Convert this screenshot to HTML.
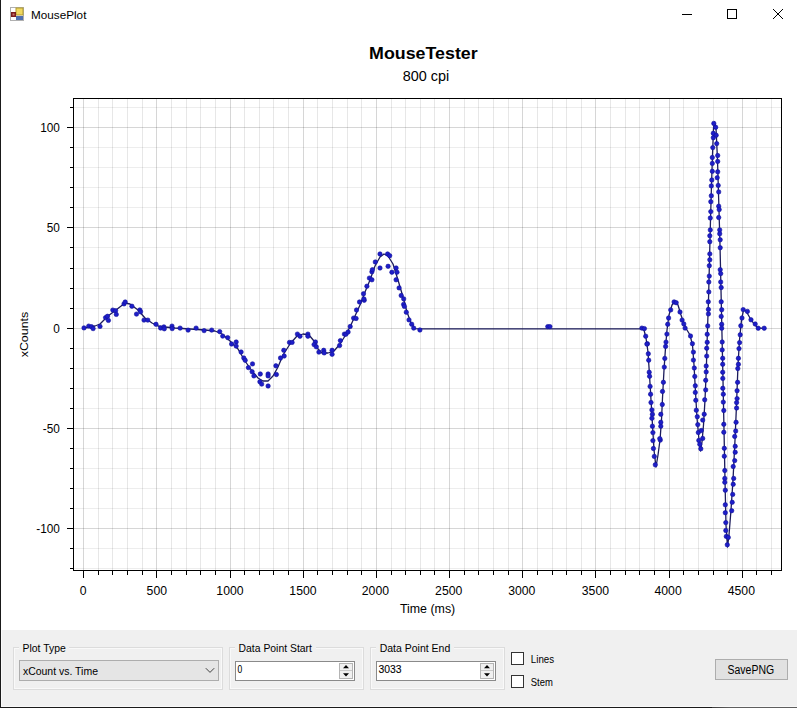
<!DOCTYPE html>
<html><head><meta charset="utf-8"><title>MousePlot</title>
<style>
*{margin:0;padding:0;box-sizing:border-box}
html,body{width:797px;height:708px;overflow:hidden;background:#fff}
body{position:relative;font-family:"Liberation Sans",sans-serif;color:#000}
.abs{position:absolute}
svg text{font-family:"Liberation Sans",sans-serif}
.mi{stroke:rgba(0,0,0,0.07);stroke-width:1}
.mv{stroke:rgba(0,0,0,0.095);stroke-width:1}
.ma{stroke:rgba(0,0,0,0.16);stroke-width:1}
.tl{font-size:12px;fill:#000}
.tt{font-size:17px;font-weight:bold;fill:#000}
.st{font-size:14px;fill:#000}
#panel{left:1px;top:630px;width:796px;height:77px;background:#f0f0f0}
.gb{position:absolute;border:1px solid #dcdcdc;}
.lbl{position:absolute;font-size:11px;line-height:13px;white-space:nowrap;background:#f0f0f0;padding:0 1px}
.txt{position:absolute;font-size:11px;line-height:13px;white-space:nowrap}
</style></head><body>
<svg class="abs" style="left:0;top:0" width="797" height="630" viewBox="0 0 797 630">
<line x1="98.5" y1="99" x2="98.5" y2="570" class="mv"/>
<line x1="112.5" y1="99" x2="112.5" y2="570" class="mv"/>
<line x1="127.5" y1="99" x2="127.5" y2="570" class="mv"/>
<line x1="142.5" y1="99" x2="142.5" y2="570" class="mv"/>
<line x1="171.5" y1="99" x2="171.5" y2="570" class="mv"/>
<line x1="186.5" y1="99" x2="186.5" y2="570" class="mv"/>
<line x1="200.5" y1="99" x2="200.5" y2="570" class="mv"/>
<line x1="215.5" y1="99" x2="215.5" y2="570" class="mv"/>
<line x1="244.5" y1="99" x2="244.5" y2="570" class="mv"/>
<line x1="259.5" y1="99" x2="259.5" y2="570" class="mv"/>
<line x1="273.5" y1="99" x2="273.5" y2="570" class="mv"/>
<line x1="288.5" y1="99" x2="288.5" y2="570" class="mv"/>
<line x1="317.5" y1="99" x2="317.5" y2="570" class="mv"/>
<line x1="332.5" y1="99" x2="332.5" y2="570" class="mv"/>
<line x1="347.5" y1="99" x2="347.5" y2="570" class="mv"/>
<line x1="361.5" y1="99" x2="361.5" y2="570" class="mv"/>
<line x1="391.5" y1="99" x2="391.5" y2="570" class="mv"/>
<line x1="405.5" y1="99" x2="405.5" y2="570" class="mv"/>
<line x1="420.5" y1="99" x2="420.5" y2="570" class="mv"/>
<line x1="434.5" y1="99" x2="434.5" y2="570" class="mv"/>
<line x1="464.5" y1="99" x2="464.5" y2="570" class="mv"/>
<line x1="478.5" y1="99" x2="478.5" y2="570" class="mv"/>
<line x1="493.5" y1="99" x2="493.5" y2="570" class="mv"/>
<line x1="508.5" y1="99" x2="508.5" y2="570" class="mv"/>
<line x1="537.5" y1="99" x2="537.5" y2="570" class="mv"/>
<line x1="552.5" y1="99" x2="552.5" y2="570" class="mv"/>
<line x1="566.5" y1="99" x2="566.5" y2="570" class="mv"/>
<line x1="581.5" y1="99" x2="581.5" y2="570" class="mv"/>
<line x1="610.5" y1="99" x2="610.5" y2="570" class="mv"/>
<line x1="625.5" y1="99" x2="625.5" y2="570" class="mv"/>
<line x1="639.5" y1="99" x2="639.5" y2="570" class="mv"/>
<line x1="654.5" y1="99" x2="654.5" y2="570" class="mv"/>
<line x1="683.5" y1="99" x2="683.5" y2="570" class="mv"/>
<line x1="698.5" y1="99" x2="698.5" y2="570" class="mv"/>
<line x1="713.5" y1="99" x2="713.5" y2="570" class="mv"/>
<line x1="727.5" y1="99" x2="727.5" y2="570" class="mv"/>
<line x1="756.5" y1="99" x2="756.5" y2="570" class="mv"/>
<line x1="771.5" y1="99" x2="771.5" y2="570" class="mv"/>
<line x1="74" y1="568.5" x2="781" y2="568.5" class="mi"/>
<line x1="74" y1="548.5" x2="781" y2="548.5" class="mi"/>
<line x1="74" y1="508.5" x2="781" y2="508.5" class="mi"/>
<line x1="74" y1="488.5" x2="781" y2="488.5" class="mi"/>
<line x1="74" y1="468.5" x2="781" y2="468.5" class="mi"/>
<line x1="74" y1="448.5" x2="781" y2="448.5" class="mi"/>
<line x1="74" y1="408.5" x2="781" y2="408.5" class="mi"/>
<line x1="74" y1="388.5" x2="781" y2="388.5" class="mi"/>
<line x1="74" y1="368.5" x2="781" y2="368.5" class="mi"/>
<line x1="74" y1="348.5" x2="781" y2="348.5" class="mi"/>
<line x1="74" y1="308.5" x2="781" y2="308.5" class="mi"/>
<line x1="74" y1="288.5" x2="781" y2="288.5" class="mi"/>
<line x1="74" y1="268.5" x2="781" y2="268.5" class="mi"/>
<line x1="74" y1="247.5" x2="781" y2="247.5" class="mi"/>
<line x1="74" y1="207.5" x2="781" y2="207.5" class="mi"/>
<line x1="74" y1="187.5" x2="781" y2="187.5" class="mi"/>
<line x1="74" y1="167.5" x2="781" y2="167.5" class="mi"/>
<line x1="74" y1="147.5" x2="781" y2="147.5" class="mi"/>
<line x1="74" y1="107.5" x2="781" y2="107.5" class="mi"/>
<line x1="83.5" y1="99" x2="83.5" y2="570" class="ma"/>
<line x1="156.5" y1="99" x2="156.5" y2="570" class="ma"/>
<line x1="230.5" y1="99" x2="230.5" y2="570" class="ma"/>
<line x1="303.5" y1="99" x2="303.5" y2="570" class="ma"/>
<line x1="376.5" y1="99" x2="376.5" y2="570" class="ma"/>
<line x1="449.5" y1="99" x2="449.5" y2="570" class="ma"/>
<line x1="522.5" y1="99" x2="522.5" y2="570" class="ma"/>
<line x1="595.5" y1="99" x2="595.5" y2="570" class="ma"/>
<line x1="669.5" y1="99" x2="669.5" y2="570" class="ma"/>
<line x1="742.5" y1="99" x2="742.5" y2="570" class="ma"/>
<line x1="74" y1="528.5" x2="781" y2="528.5" class="ma"/>
<line x1="74" y1="428.5" x2="781" y2="428.5" class="ma"/>
<line x1="74" y1="328.5" x2="781" y2="328.5" class="ma"/>
<line x1="74" y1="227.5" x2="781" y2="227.5" class="ma"/>
<line x1="74" y1="127.5" x2="781" y2="127.5" class="ma"/>
<rect x="73.5" y="98.5" width="708" height="472" fill="none" stroke="#000" stroke-width="1"/>
<path d="M83.5 571v7 M98.5 571v4 M112.5 571v4 M127.5 571v4 M142.5 571v4 M156.5 571v7 M171.5 571v4 M186.5 571v4 M200.5 571v4 M215.5 571v4 M230.5 571v7 M244.5 571v4 M259.5 571v4 M273.5 571v4 M288.5 571v4 M303.5 571v7 M317.5 571v4 M332.5 571v4 M347.5 571v4 M361.5 571v4 M376.5 571v7 M391.5 571v4 M405.5 571v4 M420.5 571v4 M434.5 571v4 M449.5 571v7 M464.5 571v4 M478.5 571v4 M493.5 571v4 M508.5 571v4 M522.5 571v7 M537.5 571v4 M552.5 571v4 M566.5 571v4 M581.5 571v4 M595.5 571v7 M610.5 571v4 M625.5 571v4 M639.5 571v4 M654.5 571v4 M669.5 571v7 M683.5 571v4 M698.5 571v4 M713.5 571v4 M727.5 571v4 M742.5 571v7 M756.5 571v4 M771.5 571v4 M73 568.5h-3 M73 548.5h-3 M73 528.5h-6 M73 508.5h-3 M73 488.5h-3 M73 468.5h-3 M73 448.5h-3 M73 428.5h-6 M73 408.5h-3 M73 388.5h-3 M73 368.5h-3 M73 348.5h-3 M73 328.5h-6 M73 308.5h-3 M73 288.5h-3 M73 268.5h-3 M73 247.5h-3 M73 227.5h-6 M73 207.5h-3 M73 187.5h-3 M73 167.5h-3 M73 147.5h-3 M73 127.5h-6 M73 107.5h-3" stroke="#000" stroke-width="1" fill="none"/>
<text x="79.80" y="594.6" font-size="12" textLength="6.81" lengthAdjust="spacingAndGlyphs">0</text>
<text x="146.58" y="594.6" font-size="12" textLength="20.42" lengthAdjust="spacingAndGlyphs">500</text>
<text x="216.33" y="594.6" font-size="12" textLength="27.23" lengthAdjust="spacingAndGlyphs">1000</text>
<text x="289.33" y="594.6" font-size="12" textLength="27.23" lengthAdjust="spacingAndGlyphs">1500</text>
<text x="361.78" y="594.6" font-size="12" textLength="27.23" lengthAdjust="spacingAndGlyphs">2000</text>
<text x="435.08" y="594.6" font-size="12" textLength="27.23" lengthAdjust="spacingAndGlyphs">2500</text>
<text x="508.18" y="594.6" font-size="12" textLength="27.23" lengthAdjust="spacingAndGlyphs">3000</text>
<text x="581.78" y="594.6" font-size="12" textLength="27.23" lengthAdjust="spacingAndGlyphs">3500</text>
<text x="654.48" y="594.6" font-size="12" textLength="27.23" lengthAdjust="spacingAndGlyphs">4000</text>
<text x="727.73" y="594.6" font-size="12" textLength="27.23" lengthAdjust="spacingAndGlyphs">4500</text>
<text x="36.26" y="532.8" font-size="12" textLength="23.66" lengthAdjust="spacingAndGlyphs">-100</text>
<text x="42.82" y="432.8" font-size="12" textLength="17.08" lengthAdjust="spacingAndGlyphs">-50</text>
<text x="53.34" y="332.8" font-size="12" textLength="6.57" lengthAdjust="spacingAndGlyphs">0</text>
<text x="46.78" y="231.8" font-size="12" textLength="13.15" lengthAdjust="spacingAndGlyphs">50</text>
<text x="40.16" y="131.8" font-size="12" textLength="19.72" lengthAdjust="spacingAndGlyphs">100</text>
<text x="399.90" y="612.6" font-size="12" textLength="55.33" lengthAdjust="spacingAndGlyphs">Time (ms)</text>
<text x="-357.30" y="27.5" font-size="11.6" textLength="45.48" lengthAdjust="spacingAndGlyphs" transform="rotate(-90)">xCounts</text>
<text x="369.10" y="58.5" font-size="16.6" font-weight="bold" textLength="108.59" lengthAdjust="spacingAndGlyphs">MouseTester</text>
<text x="402.80" y="80.6" font-size="14" textLength="46.50" lengthAdjust="spacingAndGlyphs">800 cpi</text>
<path d="M84.0 328.0 L90.0 327.0 L95.0 326.0 L100.0 324.0 L108.0 316.0 L116.0 310.0 L125.0 303.0 L130.0 304.0 L138.0 310.0 L145.0 318.0 L152.0 323.0 L158.0 326.0 L165.0 327.0 L175.0 328.0 L190.0 329.0 L205.0 330.0 L215.0 331.0 L222.0 334.0 L230.0 341.0 L238.0 349.0 L245.0 361.0 L252.0 371.0 L258.0 378.0 L263.0 381.0 L268.0 381.0 L273.0 376.0 L278.0 367.0 L283.0 355.0 L290.0 344.0 L297.0 336.0 L303.0 334.0 L309.0 335.0 L314.0 341.0 L318.0 349.0 L322.0 353.0 L328.0 353.0 L334.0 351.0 L340.0 344.0 L345.0 336.0 L350.0 327.0 L355.0 316.0 L360.0 305.0 L365.0 292.0 L370.0 280.0 L375.0 266.0 L380.0 257.0 L384.0 254.0 L388.0 256.0 L393.0 264.0 L398.0 280.0 L403.0 297.0 L407.0 312.0 L411.0 323.0 L415.0 328.6 L420.0 328.9 L641.0 328.9 L644.0 330.0 L646.0 338.0 L648.0 352.0 L649.5 375.0 L651.0 400.0 L652.5 425.0 L654.0 450.0 L656.0 467.0 L658.0 455.0 L660.0 440.0 L661.5 420.0 L662.5 398.0 L664.0 370.0 L665.5 348.0 L667.0 330.0 L669.0 315.0 L672.0 305.0 L675.0 301.5 L678.0 305.0 L681.0 315.0 L684.0 324.0 L687.0 330.0 L690.0 335.0 L692.5 345.0 L694.0 365.0 L695.5 392.0 L697.0 418.0 L699.0 440.0 L700.5 451.0 L702.0 442.0 L703.5 425.0 L705.0 400.0 L706.3 370.0 L707.3 335.0 L708.5 300.0 L709.5 260.0 L710.5 220.0 L711.5 185.0 L712.5 155.0 L713.5 128.0 L714.5 122.0 L716.0 128.0 L717.5 160.0 L718.7 200.0 L720.0 245.0 L721.0 290.0 L722.0 335.0 L723.0 380.0 L724.0 430.0 L725.0 480.0 L726.0 525.0 L727.5 547.0 L729.0 535.0 L731.0 510.0 L733.0 480.0 L735.0 440.0 L736.5 405.0 L738.0 365.0 L739.5 340.0 L741.5 320.0 L743.5 310.0 L746.0 311.0 L750.0 318.0 L754.0 324.0 L758.0 328.0 L765.0 328.5" fill="none" stroke="#1c1c5c" stroke-width="1.3" stroke-linejoin="round"/>
<g fill="#1e1ec8" stroke="#10109a" stroke-width="0.6"><circle cx="84.0" cy="327.9" r="2.2"/><circle cx="88.7" cy="326.1" r="2.2"/><circle cx="91.5" cy="326.7" r="2.2"/><circle cx="93.1" cy="328.6" r="2.2"/><circle cx="100.0" cy="326.4" r="2.2"/><circle cx="105.6" cy="317.6" r="2.2"/><circle cx="107.5" cy="316.3" r="2.2"/><circle cx="108.4" cy="320.4" r="2.2"/><circle cx="112.8" cy="310.1" r="2.2"/><circle cx="115.6" cy="310.7" r="2.2"/><circle cx="116.3" cy="314.4" r="2.2"/><circle cx="124.0" cy="303.9" r="2.2"/><circle cx="125.2" cy="302.0" r="2.2"/><circle cx="131.9" cy="306.2" r="2.2"/><circle cx="136.5" cy="314.1" r="2.2"/><circle cx="139.8" cy="310.0" r="2.2"/><circle cx="140.6" cy="311.8" r="2.2"/><circle cx="144.0" cy="320.1" r="2.2"/><circle cx="147.8" cy="320.1" r="2.2"/><circle cx="156.0" cy="324.3" r="2.2"/><circle cx="160.6" cy="328.0" r="2.2"/><circle cx="163.9" cy="326.9" r="2.2"/><circle cx="164.3" cy="328.8" r="2.2"/><circle cx="172.0" cy="326.1" r="2.2"/><circle cx="172.2" cy="328.6" r="2.2"/><circle cx="180.1" cy="328.1" r="2.2"/><circle cx="188.1" cy="330.1" r="2.2"/><circle cx="196.1" cy="328.1" r="2.2"/><circle cx="204.1" cy="330.6" r="2.2"/><circle cx="211.7" cy="330.1" r="2.2"/><circle cx="219.7" cy="331.6" r="2.2"/><circle cx="222.7" cy="336.1" r="2.2"/><circle cx="227.7" cy="337.6" r="2.2"/><circle cx="231.6" cy="344.0" r="2.2"/><circle cx="236.2" cy="342.0" r="2.2"/><circle cx="236.2" cy="346.1" r="2.2"/><circle cx="241.1" cy="352.0" r="2.2"/><circle cx="243.8" cy="358.0" r="2.2"/><circle cx="245.2" cy="360.3" r="2.2"/><circle cx="248.4" cy="367.6" r="2.2"/><circle cx="252.5" cy="363.9" r="2.2"/><circle cx="252.1" cy="371.7" r="2.2"/><circle cx="253.9" cy="375.9" r="2.2"/><circle cx="260.3" cy="374.0" r="2.2"/><circle cx="259.9" cy="381.8" r="2.2"/><circle cx="261.7" cy="384.1" r="2.2"/><circle cx="268.1" cy="374.0" r="2.2"/><circle cx="268.1" cy="375.9" r="2.2"/><circle cx="268.1" cy="386.0" r="2.2"/><circle cx="276.4" cy="374.5" r="2.2"/><circle cx="275.9" cy="365.8" r="2.2"/><circle cx="280.5" cy="358.0" r="2.2"/><circle cx="284.2" cy="356.0" r="2.2"/><circle cx="283.8" cy="350.3" r="2.2"/><circle cx="289.5" cy="342.4" r="2.2"/><circle cx="292.1" cy="342.4" r="2.2"/><circle cx="297.4" cy="334.1" r="2.2"/><circle cx="300.0" cy="336.2" r="2.2"/><circle cx="307.9" cy="334.1" r="2.2"/><circle cx="307.9" cy="336.2" r="2.2"/><circle cx="315.4" cy="342.0" r="2.2"/><circle cx="314.1" cy="344.6" r="2.2"/><circle cx="316.3" cy="346.8" r="2.2"/><circle cx="318.9" cy="352.1" r="2.2"/><circle cx="323.7" cy="350.3" r="2.2"/><circle cx="324.2" cy="352.9" r="2.2"/><circle cx="332.1" cy="350.3" r="2.2"/><circle cx="332.1" cy="354.3" r="2.2"/><circle cx="339.6" cy="345.5" r="2.2"/><circle cx="340.4" cy="340.6" r="2.2"/><circle cx="344.4" cy="334.1" r="2.2"/><circle cx="345.9" cy="334.2" r="2.2"/><circle cx="348.1" cy="332.0" r="2.2"/><circle cx="350.2" cy="326.5" r="2.2"/><circle cx="353.6" cy="318.1" r="2.2"/><circle cx="356.1" cy="318.5" r="2.2"/><circle cx="356.5" cy="310.0" r="2.2"/><circle cx="359.5" cy="302.0" r="2.2"/><circle cx="364.2" cy="300.3" r="2.2"/><circle cx="363.5" cy="293.8" r="2.2"/><circle cx="363.9" cy="298.9" r="2.2"/><circle cx="366.9" cy="286.2" r="2.2"/><circle cx="369.4" cy="278.1" r="2.2"/><circle cx="371.9" cy="279.8" r="2.2"/><circle cx="371.9" cy="271.8" r="2.2"/><circle cx="372.4" cy="269.7" r="2.2"/><circle cx="375.3" cy="262.0" r="2.2"/><circle cx="380.0" cy="254.0" r="2.2"/><circle cx="380.0" cy="268.0" r="2.2"/><circle cx="387.6" cy="254.0" r="2.2"/><circle cx="389.7" cy="255.7" r="2.2"/><circle cx="388.1" cy="266.3" r="2.2"/><circle cx="391.9" cy="272.2" r="2.2"/><circle cx="396.1" cy="268.0" r="2.2"/><circle cx="397.0" cy="272.2" r="2.2"/><circle cx="396.1" cy="279.8" r="2.2"/><circle cx="399.1" cy="287.9" r="2.2"/><circle cx="401.2" cy="295.5" r="2.2"/><circle cx="403.7" cy="298.9" r="2.2"/><circle cx="403.6" cy="304.4" r="2.2"/><circle cx="404.4" cy="306.4" r="2.2"/><circle cx="406.3" cy="312.2" r="2.2"/><circle cx="409.0" cy="319.9" r="2.2"/><circle cx="411.7" cy="324.2" r="2.2"/><circle cx="413.7" cy="328.1" r="2.2"/><circle cx="419.9" cy="330.0" r="2.2"/><circle cx="547.8" cy="326.6" r="2.2"/><circle cx="549.9" cy="326.6" r="2.2"/><circle cx="641.9" cy="328.1" r="2.2"/><circle cx="644.4" cy="328.6" r="2.2"/><circle cx="645.7" cy="336.2" r="2.2"/><circle cx="647.4" cy="343.8" r="2.2"/><circle cx="646.9" cy="344.1" r="2.2"/><circle cx="648.3" cy="353.8" r="2.2"/><circle cx="648.7" cy="360.2" r="2.2"/><circle cx="649.2" cy="372.2" r="2.2"/><circle cx="649.6" cy="376.3" r="2.2"/><circle cx="650.1" cy="386.4" r="2.2"/><circle cx="650.6" cy="394.2" r="2.2"/><circle cx="651.0" cy="402.5" r="2.2"/><circle cx="651.9" cy="409.9" r="2.2"/><circle cx="652.4" cy="414.3" r="2.2"/><circle cx="651.9" cy="418.3" r="2.2"/><circle cx="652.4" cy="426.2" r="2.2"/><circle cx="652.9" cy="432.6" r="2.2"/><circle cx="652.9" cy="440.6" r="2.2"/><circle cx="653.4" cy="448.5" r="2.2"/><circle cx="654.3" cy="456.4" r="2.2"/><circle cx="655.3" cy="464.8" r="2.2"/><circle cx="660.3" cy="440.1" r="2.2"/><circle cx="659.8" cy="438.6" r="2.2"/><circle cx="660.8" cy="426.2" r="2.2"/><circle cx="660.8" cy="422.3" r="2.2"/><circle cx="660.8" cy="414.3" r="2.2"/><circle cx="662.3" cy="404.5" r="2.2"/><circle cx="662.5" cy="391.4" r="2.2"/><circle cx="663.4" cy="382.3" r="2.2"/><circle cx="664.3" cy="367.1" r="2.2"/><circle cx="664.8" cy="358.4" r="2.2"/><circle cx="665.6" cy="346.4" r="2.2"/><circle cx="666.0" cy="342.1" r="2.2"/><circle cx="666.9" cy="334.1" r="2.2"/><circle cx="667.7" cy="324.3" r="2.2"/><circle cx="668.6" cy="318.0" r="2.2"/><circle cx="670.7" cy="309.9" r="2.2"/><circle cx="674.1" cy="301.9" r="2.2"/><circle cx="676.2" cy="302.7" r="2.2"/><circle cx="680.0" cy="312.0" r="2.2"/><circle cx="682.1" cy="320.1" r="2.2"/><circle cx="683.8" cy="323.9" r="2.2"/><circle cx="685.1" cy="328.1" r="2.2"/><circle cx="690.5" cy="336.0" r="2.2"/><circle cx="692.4" cy="343.7" r="2.2"/><circle cx="693.4" cy="352.1" r="2.2"/><circle cx="693.4" cy="360.1" r="2.2"/><circle cx="694.3" cy="368.0" r="2.2"/><circle cx="694.8" cy="376.4" r="2.2"/><circle cx="695.3" cy="385.8" r="2.2"/><circle cx="695.3" cy="392.4" r="2.2"/><circle cx="695.8" cy="400.3" r="2.2"/><circle cx="696.3" cy="410.2" r="2.2"/><circle cx="697.3" cy="416.7" r="2.2"/><circle cx="697.8" cy="424.6" r="2.2"/><circle cx="698.3" cy="432.5" r="2.2"/><circle cx="698.8" cy="440.4" r="2.2"/><circle cx="699.8" cy="444.3" r="2.2"/><circle cx="700.8" cy="448.8" r="2.2"/><circle cx="701.3" cy="430.5" r="2.2"/><circle cx="702.7" cy="438.4" r="2.2"/><circle cx="702.7" cy="420.1" r="2.2"/><circle cx="704.2" cy="414.2" r="2.2"/><circle cx="704.7" cy="399.8" r="2.2"/><circle cx="705.7" cy="389.9" r="2.2"/><circle cx="705.7" cy="380.3" r="2.2"/><circle cx="706.2" cy="371.9" r="2.2"/><circle cx="706.2" cy="366.0" r="2.2"/><circle cx="706.7" cy="356.1" r="2.2"/><circle cx="706.7" cy="348.2" r="2.2"/><circle cx="707.2" cy="342.3" r="2.2"/><circle cx="707.2" cy="334.3" r="2.2"/><circle cx="707.7" cy="325.9" r="2.2"/><circle cx="708.4" cy="313.9" r="2.2"/><circle cx="708.4" cy="309.4" r="2.2"/><circle cx="708.3" cy="301.8" r="2.2"/><circle cx="708.8" cy="291.9" r="2.2"/><circle cx="708.8" cy="282.0" r="2.2"/><circle cx="709.3" cy="276.1" r="2.2"/><circle cx="709.3" cy="265.7" r="2.2"/><circle cx="709.8" cy="259.8" r="2.2"/><circle cx="709.8" cy="253.9" r="2.2"/><circle cx="709.8" cy="241.7" r="2.2"/><circle cx="709.8" cy="235.8" r="2.2"/><circle cx="710.3" cy="229.9" r="2.2"/><circle cx="710.3" cy="218.0" r="2.2"/><circle cx="710.8" cy="211.6" r="2.2"/><circle cx="710.8" cy="201.7" r="2.2"/><circle cx="711.3" cy="195.8" r="2.2"/><circle cx="711.3" cy="185.9" r="2.2"/><circle cx="711.8" cy="180.0" r="2.2"/><circle cx="712.3" cy="171.3" r="2.2"/><circle cx="712.3" cy="163.4" r="2.2"/><circle cx="712.3" cy="157.5" r="2.2"/><circle cx="712.8" cy="147.6" r="2.2"/><circle cx="713.3" cy="137.7" r="2.2"/><circle cx="713.3" cy="133.3" r="2.2"/><circle cx="713.8" cy="123.4" r="2.2"/><circle cx="715.7" cy="127.3" r="2.2"/><circle cx="716.2" cy="135.2" r="2.2"/><circle cx="716.7" cy="143.6" r="2.2"/><circle cx="717.7" cy="155.5" r="2.2"/><circle cx="717.7" cy="161.4" r="2.2"/><circle cx="717.7" cy="171.8" r="2.2"/><circle cx="717.2" cy="177.7" r="2.2"/><circle cx="718.2" cy="185.4" r="2.2"/><circle cx="718.7" cy="191.9" r="2.2"/><circle cx="718.7" cy="206.2" r="2.2"/><circle cx="719.2" cy="209.6" r="2.2"/><circle cx="718.7" cy="217.5" r="2.2"/><circle cx="719.7" cy="229.9" r="2.2"/><circle cx="719.7" cy="233.8" r="2.2"/><circle cx="720.2" cy="239.8" r="2.2"/><circle cx="720.2" cy="247.7" r="2.2"/><circle cx="720.2" cy="269.7" r="2.2"/><circle cx="720.7" cy="273.6" r="2.2"/><circle cx="720.7" cy="282.0" r="2.2"/><circle cx="721.2" cy="287.5" r="2.2"/><circle cx="721.2" cy="301.8" r="2.2"/><circle cx="721.7" cy="309.7" r="2.2"/><circle cx="721.2" cy="316.4" r="2.2"/><circle cx="721.7" cy="324.3" r="2.2"/><circle cx="721.7" cy="328.2" r="2.2"/><circle cx="722.2" cy="342.0" r="2.2"/><circle cx="722.2" cy="349.9" r="2.2"/><circle cx="722.7" cy="358.3" r="2.2"/><circle cx="722.7" cy="364.3" r="2.2"/><circle cx="722.7" cy="372.2" r="2.2"/><circle cx="722.8" cy="378.4" r="2.2"/><circle cx="722.8" cy="388.3" r="2.2"/><circle cx="723.3" cy="394.2" r="2.2"/><circle cx="723.3" cy="402.1" r="2.2"/><circle cx="723.8" cy="410.5" r="2.2"/><circle cx="723.8" cy="424.3" r="2.2"/><circle cx="723.8" cy="432.2" r="2.2"/><circle cx="724.3" cy="448.3" r="2.2"/><circle cx="724.3" cy="456.2" r="2.2"/><circle cx="724.8" cy="470.5" r="2.2"/><circle cx="724.8" cy="478.4" r="2.2"/><circle cx="724.8" cy="482.3" r="2.2"/><circle cx="725.3" cy="490.2" r="2.2"/><circle cx="725.3" cy="504.8" r="2.2"/><circle cx="725.3" cy="512.7" r="2.2"/><circle cx="725.8" cy="522.6" r="2.2"/><circle cx="725.8" cy="530.5" r="2.2"/><circle cx="726.3" cy="536.4" r="2.2"/><circle cx="727.3" cy="544.8" r="2.2"/><circle cx="728.3" cy="537.4" r="2.2"/><circle cx="731.7" cy="510.7" r="2.2"/><circle cx="732.2" cy="502.3" r="2.2"/><circle cx="732.7" cy="494.4" r="2.2"/><circle cx="733.2" cy="484.3" r="2.2"/><circle cx="733.7" cy="478.4" r="2.2"/><circle cx="733.2" cy="466.5" r="2.2"/><circle cx="734.7" cy="460.6" r="2.2"/><circle cx="735.2" cy="452.2" r="2.2"/><circle cx="735.2" cy="446.3" r="2.2"/><circle cx="734.7" cy="436.4" r="2.2"/><circle cx="735.7" cy="431.0" r="2.2"/><circle cx="736.1" cy="422.3" r="2.2"/><circle cx="736.6" cy="408.0" r="2.2"/><circle cx="736.6" cy="402.6" r="2.2"/><circle cx="737.1" cy="398.6" r="2.2"/><circle cx="737.1" cy="390.7" r="2.2"/><circle cx="737.6" cy="382.3" r="2.2"/><circle cx="737.8" cy="368.5" r="2.2"/><circle cx="738.4" cy="364.3" r="2.2"/><circle cx="738.4" cy="358.3" r="2.2"/><circle cx="739.0" cy="348.6" r="2.2"/><circle cx="739.6" cy="342.6" r="2.2"/><circle cx="740.2" cy="334.8" r="2.2"/><circle cx="740.8" cy="325.8" r="2.2"/><circle cx="742.0" cy="318.0" r="2.2"/><circle cx="743.2" cy="309.6" r="2.2"/><circle cx="747.4" cy="311.4" r="2.2"/><circle cx="751.0" cy="319.8" r="2.2"/><circle cx="755.2" cy="324.0" r="2.2"/><circle cx="758.2" cy="328.2" r="2.2"/><circle cx="764.2" cy="328.2" r="2.2"/></g>
</svg>
<!-- title bar -->
<svg class="abs" style="left:0;top:0" width="797" height="30" viewBox="0 0 797 30">
  <rect x="10.5" y="7.5" width="13" height="13" fill="#fff" stroke="#b0b0b0"/>
  <rect x="16" y="8" width="7" height="7" fill="#f0d860" stroke="#b09a30" stroke-width="1"/>
  <rect x="11" y="12" width="5" height="5" fill="#7a1c1c"/>
  <rect x="12.5" y="13.5" width="2" height="2" fill="#c87070"/>
  <rect x="16" y="16" width="7" height="4" fill="#5070b0"/>
  <text x="31.10" y="18.8" font-size="11.5" textLength="55.30" lengthAdjust="spacingAndGlyphs">MousePlot</text>
  <path d="M682 14.5h10" stroke="#000" stroke-width="1"/>
  <rect x="727.5" y="9.5" width="9" height="9" fill="none" stroke="#000" stroke-width="1"/>
  <path d="M773 9L783 19M783 9L773 19" stroke="#000" stroke-width="1"/>
</svg>
<div class="abs" style="left:0;top:0;width:1px;height:708px;background:#1a1a1a"></div>
<div class="abs" id="panel"></div>
<svg class="abs" style="left:0;top:630px" width="797" height="78" viewBox="0 630 797 78" font-family="Liberation Sans, sans-serif">
<rect x="13.5" y="647.5" width="209" height="42" fill="none" stroke="#dcdcdc"/>
<rect x="14.5" y="648.5" width="207" height="40" fill="none" stroke="#fff" stroke-opacity="0.6"/>
<rect x="19" y="640" width="50" height="12" fill="#f0f0f0"/>
<rect x="229.5" y="647.5" width="134" height="42" fill="none" stroke="#dcdcdc"/>
<rect x="230.5" y="648.5" width="132" height="40" fill="none" stroke="#fff" stroke-opacity="0.6"/>
<rect x="235" y="640" width="81" height="12" fill="#f0f0f0"/>
<rect x="370.5" y="647.5" width="134" height="42" fill="none" stroke="#dcdcdc"/>
<rect x="371.5" y="648.5" width="132" height="40" fill="none" stroke="#fff" stroke-opacity="0.6"/>
<rect x="376" y="640" width="78" height="12" fill="#f0f0f0"/>
<text x="22.50" y="651.7" font-size="11.6" textLength="43.21" lengthAdjust="spacingAndGlyphs">Plot Type</text>
<text x="238.60" y="651.8" font-size="11.6" textLength="73.29" lengthAdjust="spacingAndGlyphs">Data Point Start</text>
<text x="379.70" y="651.7" font-size="11.6" textLength="70.62" lengthAdjust="spacingAndGlyphs">Data Point End</text>
<rect x="19.5" y="660.5" width="199" height="20" fill="#e5e5e5" stroke="#adadad"/>
<text x="22.90" y="674.7" font-size="11.8" textLength="75.09" lengthAdjust="spacingAndGlyphs">xCount vs. Time</text>
<path d="M205.8 668.2l4.2 4.2l4.2 -4.2" fill="none" stroke="#404040" stroke-width="1"/>
<rect x="235.5" y="661.5" width="119" height="19" fill="#fff" stroke="#8a8a8a"/>
<rect x="339.5" y="663.5" width="13" height="15" fill="#f0f0f0" stroke="#b4b4b4"/>
<path d="M340 670.5h12" stroke="#c8c8c8"/>
<path d="M343 668.2h6l-3 -3.2z M343 673.2h6l-3 3.2z" fill="#000"/>
<text x="237.60" y="673.4" font-size="11.8" textLength="4.71" lengthAdjust="spacingAndGlyphs" stroke="#000" stroke-width="0.1">0</text>
<rect x="376.5" y="661.5" width="119" height="19" fill="#fff" stroke="#8a8a8a"/>
<rect x="480.5" y="663.5" width="13" height="15" fill="#f0f0f0" stroke="#b4b4b4"/>
<path d="M481 670.5h12" stroke="#c8c8c8"/>
<path d="M484 668.2h6l-3 -3.2z M484 673.2h6l-3 3.2z" fill="#000"/>
<text x="378.40" y="673.4" font-size="11.8" textLength="23.10" lengthAdjust="spacingAndGlyphs" stroke="#000" stroke-width="0.1">3033</text>
<rect x="511.5" y="652.5" width="12" height="12" fill="#fff" stroke="#333"/>
<rect x="511.5" y="675.5" width="12" height="12" fill="#fff" stroke="#333"/>
<text x="530.80" y="662.8" font-size="11.8" textLength="23.31" lengthAdjust="spacingAndGlyphs">Lines</text>
<text x="530.80" y="685.6" font-size="11.8" textLength="22.09" lengthAdjust="spacingAndGlyphs">Stem</text>
<rect x="715.5" y="659.5" width="72" height="20" fill="#e1e1e1" stroke="#adadad"/>
<text x="727.50" y="673.7" font-size="12" textLength="46.61" lengthAdjust="spacingAndGlyphs">SavePNG</text>
</svg>
<div class="abs" style="left:1px;top:630px;width:1px;height:77px;background:#fafafa"></div>
<div class="abs" style="left:1px;top:706px;width:796px;height:1px;background:#f8f8f8"></div>
<div class="abs" style="left:0;top:707px;width:712px;height:1px;background:#1a1a1a"></div>
<div class="abs" style="left:712px;top:707px;width:85px;height:1px;background:linear-gradient(90deg,#3a3a3a,#5e5e5e 20%,#5e5e5e)"></div>
</body></html>
